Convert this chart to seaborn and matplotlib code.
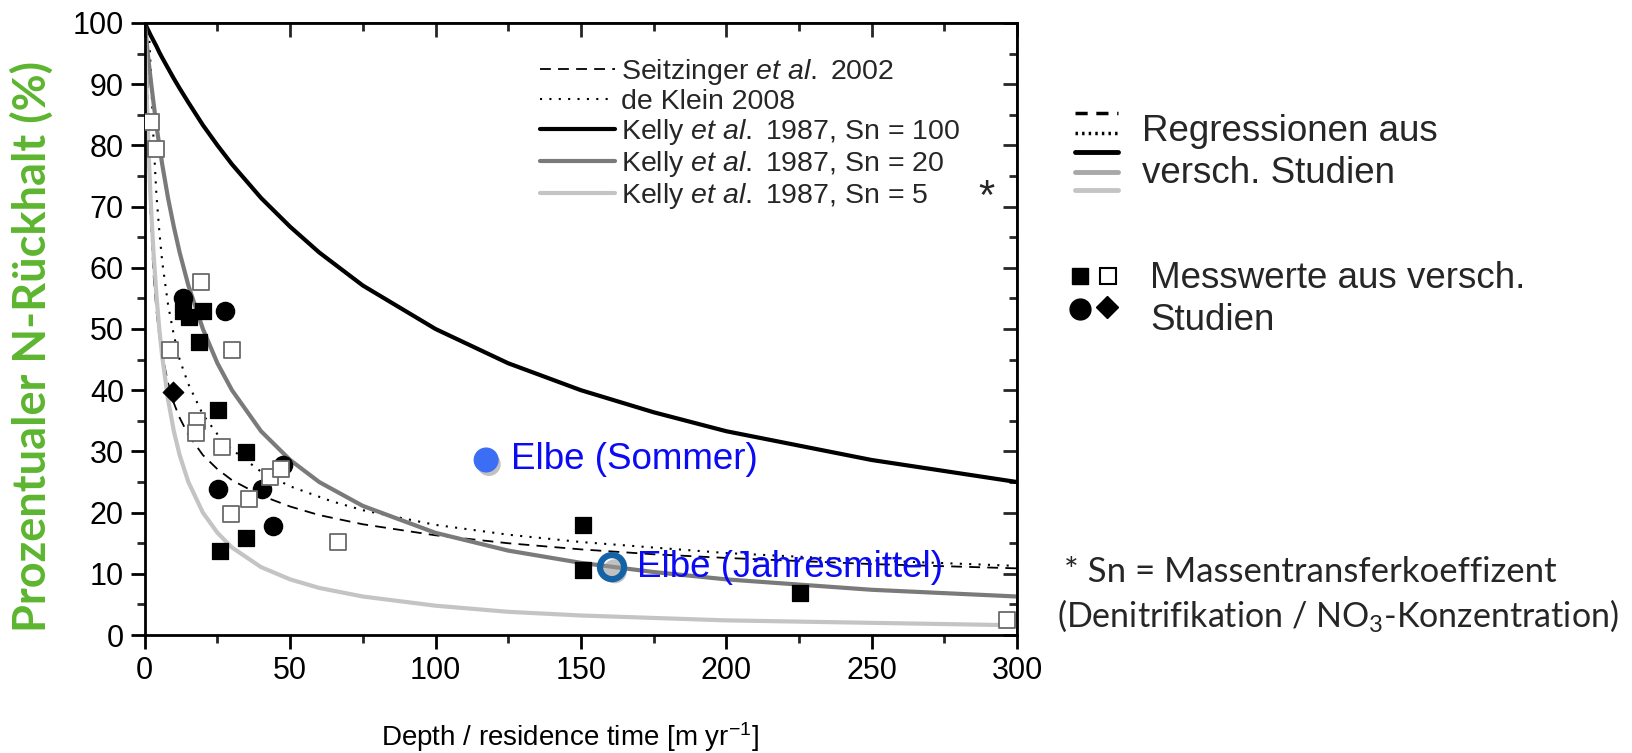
import numpy as np
import pandas as pd
import matplotlib
matplotlib.use("Agg")
import matplotlib.pyplot as plt
import seaborn as sns
from matplotlib.lines import Line2D
import matplotlib.patheffects as pe

# ---------------- data ----------------
kelly_x = [0, 0.25, 0.5, 1, 1.5, 2, 3, 4, 5, 6, 8, 10, 12, 15, 20, 25, 30, 40, 50,
           60, 75, 100, 125, 150, 175, 200, 250, 300]
kelly_sn100 = [100, 99.8, 99.5, 99.0, 98.5, 98.0, 97.1, 96.2, 95.2, 94.3, 92.6, 90.9,
               89.3, 87.0, 83.3, 80.0, 76.9, 71.4, 66.7, 62.5, 57.1, 50.0, 44.4, 40.0,
               36.4, 33.3, 28.6, 25.0]
kelly_sn20 = [100, 98.8, 97.6, 95.2, 93.0, 90.9, 87.0, 83.3, 80.0, 76.9, 71.4, 66.7,
              62.5, 57.1, 50.0, 44.4, 40.0, 33.3, 28.6, 25.0, 21.1, 16.7, 13.8, 11.8,
              10.3, 9.1, 7.4, 6.3]
kelly_sn5 = [100, 95.2, 90.9, 83.3, 76.9, 71.4, 62.5, 55.6, 50.0, 45.5, 38.5, 33.3,
             29.4, 25.0, 20.0, 16.7, 14.3, 11.1, 9.1, 7.7, 6.3, 4.8, 3.8, 3.2, 2.8,
             2.4, 2.0, 1.6]

seitz_x = [0.72, 1, 1.5, 2, 3, 4, 5, 6, 8, 10, 12, 15, 20, 25, 30, 40, 50, 60, 75,
           100, 125, 150, 175, 200, 250, 300]
seitz_y = [100, 88.5, 76.2, 68.6, 59.1, 53.1, 48.9, 45.8, 41.2, 37.9, 35.5, 32.7,
           29.4, 27.1, 25.3, 22.8, 21.0, 19.6, 18.1, 16.3, 15.0, 14.0, 13.2, 12.6,
           11.6, 10.9]

klein_x = [0, 1.5, 2, 3, 4, 5, 6, 8, 10, 12, 15, 20, 25, 30, 40, 50, 64, 75, 100,
           125, 150, 200, 250, 300]
klein_y = [100, 98, 93, 81, 72, 66, 61, 54, 49, 45, 41, 36, 32.8, 30.3, 26.7, 24.3,
           21.9, 20.4, 18.0, 16.4, 15.2, 13.4, 12.2, 11.3]

sq_filled_x = [13.3, 15.3, 19.9, 18.7, 25.1, 34.8, 34.8, 25.9, 150.6, 150.6, 225.5]
sq_filled_y = [52.9, 52.0, 52.9, 47.8, 36.8, 29.9, 15.9, 13.8, 18.0, 10.7, 6.8]
sq_open_x = [2.1, 3.9, 19.3, 8.7, 30.1, 17.9, 17.6, 26.5, 43.1, 46.8, 36.0, 29.7, 66.6, 296.4]
sq_open_y = [83.8, 79.4, 57.7, 46.5, 46.6, 34.9, 33.0, 30.8, 25.8, 27.2, 22.3, 19.7, 15.2, 2.4]
circ_x = [13.2, 27.6, 25.3, 40.2, 44.0, 47.7]
circ_y = [55.0, 52.9, 23.8, 23.8, 17.8, 27.8]
diam_x = [9.6]
diam_y = [39.7]

elbe_labels = ["Elbe (Sommer)", "Elbe (Jahresmittel)"]
elbe_x = [117.4, 160.7]
elbe_y = [28.6, 11.1]

legend_labels = [r"Seitzinger $\it{et\ al.}$ 2002", "de Klein 2008",
                 r"Kelly $\it{et\ al.}$ 1987, Sn = 100",
                 r"Kelly $\it{et\ al.}$ 1987, Sn = 20",
                 r"Kelly $\it{et\ al.}$ 1987, Sn = 5"]

# ---------------- style ----------------
sns.set_theme(style="ticks")
plt.rcParams["font.family"] = ["Liberation Sans", "DejaVu Sans"]
plt.rcParams["mathtext.fontset"] = "custom"
plt.rcParams["mathtext.rm"] = "Liberation Sans"
plt.rcParams["mathtext.it"] = "Liberation Sans:italic"
plt.rcParams["mathtext.bf"] = "Liberation Sans:bold"

fig = plt.figure(figsize=(16.32, 7.53), dpi=100)
ax = fig.add_axes([0.0887, 0.1566, 0.5345, 0.813])

C100, C20, C5 = "#000000", "#7a7a7a", "#c4c4c4"

sns.lineplot(x=seitz_x, y=seitz_y, ax=ax, color="black", lw=1.3,
             linestyle=(0, (6, 4)), label=legend_labels[0])
sns.lineplot(x=klein_x, y=klein_y, ax=ax, color="black", lw=1.5,
             linestyle=(0, (1, 3.5)), label=legend_labels[1])
sns.lineplot(x=kelly_x, y=kelly_sn100, ax=ax, color=C100, lw=3, label=legend_labels[2])
sns.lineplot(x=kelly_x, y=kelly_sn20, ax=ax, color=C20, lw=3, label=legend_labels[3])
sns.lineplot(x=kelly_x, y=kelly_sn5, ax=ax, color=C5, lw=3, label=legend_labels[4])

sns.scatterplot(x=sq_open_x, y=sq_open_y, ax=ax, marker="s", s=120,
                facecolor="white", edgecolor="#6a6a6a", linewidth=1.3, zorder=5)
sns.scatterplot(x=circ_x, y=circ_y, ax=ax, marker="o", s=170,
                color="black", edgecolor="black", zorder=4)
sns.scatterplot(x=sq_filled_x, y=sq_filled_y, ax=ax, marker="s", s=130,
                color="black", edgecolor="black", zorder=6)
sns.scatterplot(x=diam_x, y=diam_y, ax=ax, marker="D", s=110,
                color="black", edgecolor="black", zorder=6)

shadow = [pe.SimplePatchShadow(offset=(2, -3), shadow_rgbFace="#999999", alpha=0.6), pe.Normal()]
ax.scatter([elbe_x[0]], [elbe_y[0]], s=290, color="#3b6df5", edgecolor="#3b6df5",
           zorder=8, path_effects=shadow)
ax.scatter([elbe_x[1]], [elbe_y[1]], s=300, facecolor="none", edgecolor="#1463a6",
           linewidth=4.5, zorder=8, path_effects=shadow)
ax.annotate(elbe_labels[0], (elbe_x[0], elbe_y[0]), xytext=(18, 0), textcoords="offset points",
            va="center", ha="left", color="#0a0af5", fontsize=26.5, zorder=9)
ax.annotate(elbe_labels[1], (elbe_x[1], elbe_y[1]), xytext=(18, 0), textcoords="offset points",
            va="center", ha="left", color="#0a0af5", fontsize=26.5, zorder=9)

ax.set_xlim(0, 300)
ax.set_ylim(0, 100)
ax.set_xticks(np.arange(0, 301, 50))
ax.set_xticks(np.arange(0, 301, 25), minor=True)
ax.set_yticks(np.arange(0, 101, 10))
ax.set_yticks(np.arange(0, 101, 5), minor=True)
ax.tick_params(axis="both", which="major", direction="out", length=10, width=2,
               labelsize=22, colors="black", pad=5)
ax.tick_params(axis="both", which="minor", direction="out", length=6, width=2)
for sp in ax.spines.values():
    sp.set_linewidth(2)
    sp.set_color("black")
    sp.set_visible(True)

# mirrored inward ticks on top and right
axt = ax.secondary_xaxis("top")
axt.set_xticks(np.arange(0, 301, 50))
axt.set_xticks(np.arange(0, 301, 25), minor=True)
axt.tick_params(which="major", direction="in", length=10, width=2, labeltop=False)
axt.tick_params(which="minor", direction="in", length=6, width=2)
axr = ax.secondary_yaxis("right")
axr.set_yticks(np.arange(0, 101, 10))
axr.set_yticks(np.arange(0, 101, 5), minor=True)
axr.tick_params(which="major", direction="in", length=10, width=2, labelright=False)
axr.tick_params(which="minor", direction="in", length=6, width=2)

ax.set_xlabel("")
ax.set_ylabel("")

leg = ax.legend(loc="upper left", bbox_to_anchor=(0.453, 0.945), frameon=False,
                fontsize=20.5, handlelength=2.65, handletextpad=0.2, labelspacing=0.07,
                borderpad=0, borderaxespad=0)

# axis labels
fig.text(0.349, 0.021, r"Depth / residence time [m yr$^{\mathregular{-1}}$]", fontsize=20,
         ha="center", va="center", color="black")
fig.text(0.0195, 0.540, "Prozentualer N-Rückhalt (%)", rotation=90, fontsize=32.5,
         fontweight="bold", color="#5db52f", ha="center", va="center",
         family=["Lato", "DejaVu Sans"])
fig.text(986 / 1632, 1 - 198 / 753, "*", fontsize=30, ha="center", va="center")

# ---------------- right-hand annotations ----------------
ov = fig.add_axes([0, 0, 1, 1], facecolor="none")
ov.set_xlim(0, 1632)
ov.set_ylim(753, 0)
ov.axis("off")
ov.add_line(Line2D([1075, 1118], [113, 113], color="black", lw=2.5, linestyle=(0, (3.5, 2.5))))
ov.add_line(Line2D([1075, 1118], [133, 133], color="black", lw=2.5, linestyle=(0, (0.7, 1.2))))
ov.add_line(Line2D([1075, 1118], [152, 152], color="black", lw=3.5))
ov.add_line(Line2D([1075, 1118], [172, 172], color="#a8a8a8", lw=3.5))
ov.add_line(Line2D([1075, 1118], [190, 190], color="#c4c4c4", lw=3.5))
ov.text(1142, 131, "Regressionen aus", fontsize=26.5, va="center", ha="left")
ov.text(1142, 173, "versch. Studien", fontsize=26.5, va="center", ha="left")

ov.plot([1080], [276], marker="s", ms=11, color="black", mec="black")
ov.plot([1108], [276], marker="s", ms=11, color="white", mec="black", mew=1.5)
ov.plot([1080], [309], marker="o", ms=15, color="black")
ov.plot([1107], [307], marker="D", ms=11, color="black")
ov.text(1150, 278, "Messwerte aus versch.", fontsize=26.5, va="center", ha="left")
ov.text(1150, 320, "Studien", fontsize=26.5, va="center", ha="left")

ov.text(1064, 572, "* Sn = Massentransferkoeffizent", fontsize=25, va="center", ha="left",
        family=["Lato", "DejaVu Sans"])
ov.text(1057, 616, r"(Denitrifikation / NO$_\mathregular{3}$-Konzentration)", fontsize=24.5,
        va="center", ha="left", family=["Lato", "DejaVu Sans"])

fig.savefig("out.png", dpi=100)
